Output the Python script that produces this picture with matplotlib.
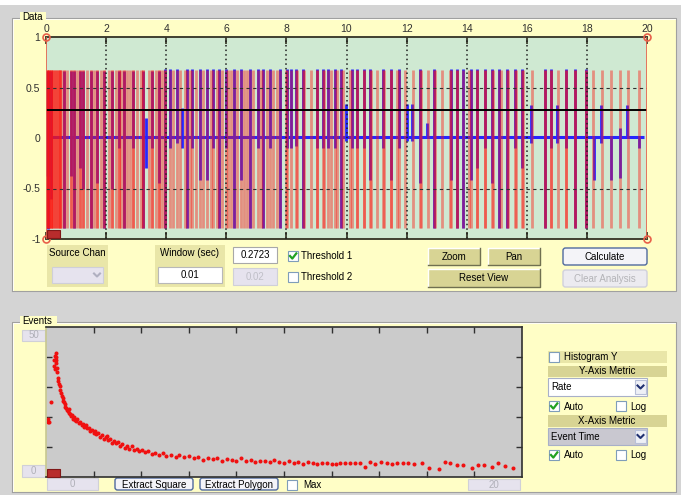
import matplotlib.pyplot as plt
from matplotlib.patches import Rectangle, FancyBboxPatch

plt.rcParams['font.family'] = ['Liberation Sans', 'DejaVu Sans']

# ---- data: top "Data" trace ----
# red event windows (times in s)
event_t = [0.03, 0.07, 0.11, 0.15, 0.18, 0.21, 0.24, 0.27, 0.30, 0.33, 0.36, 0.39,
           0.42, 0.45, 0.48, 0.51, 0.60, 0.71, 0.82, 0.93, 1.04, 1.13, 1.24, 1.35,
           1.49, 1.60, 1.71, 1.82, 1.93,
           2.10, 2.21, 2.32, 2.43, 2.51, 2.60, 2.71, 2.80, 2.91, 3.02, 3.15, 3.24,
           3.43, 3.54, 3.65, 3.76, 3.87, 3.95,
           4.24, 4.46, 4.61, 4.79, 4.98, 5.24, 5.48, 5.68, 5.87, 6.06, 6.15, 6.37,
           6.59, 6.70, 6.90, 7.14, 7.34, 7.56, 7.68, 7.98,
           8.36, 8.59, 8.81, 9.03, 9.25, 9.47, 9.69, 9.89, 10.12, 10.34, 10.58,
           10.80, 11.03, 11.25, 11.47, 11.69, 11.95,
           12.22, 12.47, 12.71, 12.93, 13.19, 13.44, 13.69, 14.08, 14.33, 14.60,
           14.89, 15.13, 15.37, 15.63, 15.88,
           16.18, 16.60, 16.82, 17.05, 17.32, 17.59, 17.98, 18.21, 18.49, 18.81,
           19.09, 19.36, 19.72]

# blue spikes: time, top, bottom
spike_t = [0.03, 0.07, 0.11, 0.15, 0.60, 0.82, 0.93, 1.13, 1.24, 1.49, 1.71, 1.93,
           2.21, 2.43, 2.60, 2.91, 3.24, 3.32, 3.54, 3.76, 3.95,
           4.13, 4.35, 4.54, 4.70, 4.87, 5.12, 5.35, 5.57, 5.76, 5.98, 6.26, 6.48,
           6.79, 7.06, 7.23, 7.45, 7.79,
           8.01, 8.14, 8.31, 8.56, 9.01, 9.23, 9.40, 9.61, 9.81, 9.97, 10.17, 10.36,
           10.58, 10.78, 11.23, 11.49, 11.75,
           12.00, 12.19, 12.45, 12.67, 12.91, 13.47, 13.67, 13.89, 14.13, 14.35,
           14.60, 14.85, 15.07, 15.35, 15.60, 15.85,
           16.15, 16.60, 16.79, 17.02, 17.32, 17.59, 17.96, 18.24, 18.48, 18.81,
           19.09, 19.35, 19.72]
spike_hi = [0.66, 0.66, 0.66, 0.66, 0.66, 0.66, 0.66, 0.66, 0.66, 0.66, 0.66, 0.66,
            0.66, 0.66, 0.66, 0.66, 0.66, 0.20, 0.66, 0.66, 0.68,
            0.68, 0.68, 0.30, 0.68, 0.68, 0.68, 0.68, 0.68, 0.68, 0.68, 0.68, 0.68,
            0.68, 0.68, 0.68, 0.68, 0.68,
            0.68, 0.68, 0.68, 0.68, 0.68, 0.68, 0.68, 0.68, 0.68, 0.34, 0.68, 0.68,
            0.68, 0.68, 0.68, 0.68, 0.68,
            0.34, 0.34, 0.68, 0.15, 0.68, 0.68, 0.68, 0.68, 0.68, 0.68,
            0.68, 0.68, 0.68, 0.68, 0.68, 0.68,
            0.33, 0.68, 0.68, 0.33, 0.68, 0.68, 0.68, 0.00, 0.33, 0.00,
            0.10, 0.33, 0.00]
spike_lo = [-0.38, -0.90, -0.38, -0.60, -0.89, -0.38, -0.89, -0.30, -0.50, -0.89, -0.45, -0.89,
            -0.50, -0.10, -0.89, -0.10, -0.89, -0.30, -0.10, -0.45, -0.89,
            -0.10, -0.05, -0.10, -0.89, -0.10, -0.42, -0.42, -0.10, -0.89, -0.10, -0.89, -0.42,
            -0.89, -0.10, -0.89, -0.10, -0.89,
            -0.10, -0.10, -0.08, -0.89, -0.10, -0.10, -0.10, -0.10, -0.89, -0.03, -0.10, -0.10,
            -0.10, -0.42, -0.10, -0.42, -0.10,
            -0.03, -0.03, -0.45, 0.00, -0.89, -0.42, -0.89, -0.89, -0.42, -0.30,
            -0.10, -0.45, -0.89, -0.89, -0.10, -0.30,
            -0.05, -0.89, -0.10, -0.05, -0.10, -0.89, -0.89, -0.42, -0.05, -0.42,
            -0.40, 0.00, -0.10]
threshold = 0.2723
x_ticks_top = [0, 2, 4, 6, 8, 10, 12, 14, 16, 18, 20]
y_ticks_top = [1, 0.5, 0, -0.5, -1]
y_tick_labels = ['1', '0.5', '0', '-0.5', '-1']

# ---- data: bottom "Events" scatter (event time, rate) ----
ev_time = [0.08, 0.10, 0.12, 0.22, 0.33, 0.35, 0.38, 0.40, 0.42, 0.44, 0.36, 0.40,
           0.45, 0.48, 0.50, 0.52, 0.55, 0.58, 0.60, 0.63, 0.66, 0.70, 0.72, 0.75,
           0.78, 0.80, 0.85, 0.88, 0.92, 0.95, 0.98, 1.02, 1.06, 1.10, 1.12, 1.18,
           1.22, 1.28, 1.32, 1.38, 1.42, 1.50, 1.55, 1.60, 1.68, 1.72, 1.80, 1.85,
           1.92, 2.00, 2.05, 2.12, 2.20, 2.28, 2.35, 2.42, 2.50, 2.56, 2.62, 2.70,
           2.78, 2.85, 2.95, 3.02, 3.10, 3.20, 3.30, 3.40, 3.50, 3.60, 3.70, 3.82,
           3.92, 4.05, 4.18, 4.30, 4.45, 4.60, 4.75, 4.90, 5.05, 5.25, 5.45, 5.60,
           5.80, 6.00, 6.20, 6.40, 6.60, 6.80, 7.00, 7.20, 7.40, 7.60, 7.80, 8.00,
           8.20, 8.40, 8.60, 8.80, 9.00, 9.20, 9.40, 9.60, 9.80, 10.0, 10.2, 10.4,
           10.6, 10.8, 11.0, 11.2, 11.4, 11.6, 11.8, 12.0, 12.2,
           12.35, 12.56, 12.77, 12.98, 13.19, 13.40, 13.61, 13.82, 14.06, 14.31,
           14.52, 14.76, 14.98, 15.22, 15.45, 15.78, 16.10, 16.52, 16.76, 16.97,
           17.25, 17.53, 17.88, 18.16, 18.40, 18.72, 19.00, 19.28, 19.63]
ev_rate = [18.5, 19.5, 18.2, 25.0, 37.0, 39.0, 40.5, 41.2, 40.0, 39.0, 36.0, 38.0,
           36.5, 35.0, 33.0, 32.0, 31.0, 30.5, 29.0, 28.0, 27.0, 26.5, 25.5, 25.0,
           24.2, 23.5, 23.0, 22.5, 22.0, 22.8, 21.5, 21.0, 20.5, 20.8, 19.5, 20.0,
           19.0, 18.6, 19.2, 18.0, 18.3, 17.5, 17.8, 16.8, 17.2, 16.2, 16.5, 15.5,
           15.8, 14.8, 15.2, 14.2, 14.6, 13.5, 14.0, 12.8, 13.2, 13.6, 12.2, 12.6,
           11.5, 12.0, 11.2, 11.6, 10.5, 11.0, 9.8, 10.2, 9.5, 10.4, 9.0, 9.4,
           8.6, 9.0, 8.2, 8.6, 7.6, 8.1, 7.5, 7.9, 7.0, 7.4, 6.8, 7.2,
           6.6, 6.9, 6.2, 6.8, 5.6, 6.3, 6.0, 6.4, 5.5, 6.0, 5.8, 5.4,
           6.2, 5.2, 5.7, 5.0, 5.5, 5.3, 4.9, 5.6, 5.1, 4.8, 5.2, 4.6,
           4.9, 4.5, 5.0, 4.7, 4.4, 4.6, 4.8, 4.5, 4.2,
           4.6, 4.6, 4.6, 4.6, 4.6, 3.4, 5.1, 4.3, 5.1, 4.6,
           4.3, 4.6, 4.6, 4.6, 4.3, 4.6, 3.1, 2.6, 5.0, 4.8,
           4.0, 4.0, 3.1, 4.0, 4.0, 3.4, 4.6, 3.7, 3.1]

W, H = 681, 495
GRAY = '#d4d4d4'
YEL = '#fffec6'
OLIVE = '#e9e6a8'
OLIVE_D = '#d8d494'
LAV = '#e6e3ee'

fig = plt.figure(figsize=(W / 100, H / 100), dpi=100, facecolor=GRAY)
bg = fig.add_axes([0, 0, 1, 1])
bg.set_xlim(0, W)
bg.set_ylim(H, 0)
bg.axis('off')


def px_axes(l, t, r, b):
    return fig.add_axes([l / W, 1 - b / H, (r - l) / W, (b - t) / H])


def box(x0, y0, x1, y1, fc, ec='none', lw=0.8, z=1):
    bg.add_patch(Rectangle((x0, y0), x1 - x0, y1 - y0, fc=fc, ec=ec, lw=lw, zorder=z))


def txt(x, y, s, size=7, color='black', ha='left'):
    bg.text(x, y, s, ha=ha, va='center', fontsize=size, color=color, zorder=5)


def button3d(x0, y0, x1, y1, label, fc=OLIVE_D):
    box(x0, y0, x1, y1, fc)
    bg.plot([x0, x0, x1], [y1, y0, y0], color='white', lw=1, zorder=2)
    bg.plot([x0, x1, x1], [y1, y1, y0], color='#707050', lw=1, zorder=2)
    txt((x0 + x1) / 2, (y0 + y1) / 2, label, ha='center')


def round_btn(x0, y0, x1, y1, label, enabled=True):
    ec = '#4f6a9e' if enabled else '#d0d0dc'
    fc = '#f4f4f8' if enabled else '#ecebf0'
    bg.add_patch(FancyBboxPatch((x0, y0), x1 - x0, y1 - y0,
                                boxstyle='round,pad=0,rounding_size=2.5',
                                fc=fc, ec=ec, lw=1, zorder=2))
    txt((x0 + x1) / 2, (y0 + y1) / 2 + 0.5, label,
        color='black' if enabled else '#b4b4b8', ha='center')


def checkbox(x0, y0, checked=False):
    box(x0, y0, x0 + 10, y0 + 10, 'white', ec='#7f9db9', lw=0.8, z=2)
    if checked:
        bg.plot([x0 + 2, x0 + 4.3, x0 + 8.3], [y0 + 5, y0 + 7.6, y0 + 2.4],
                color='#21a121', lw=1.6, zorder=3)


def chevron(cx, cy, color):
    bg.plot([cx - 3, cx, cx + 3], [cy - 1.5, cy + 1.5, cy - 1.5], color=color, lw=1.5, zorder=4)


def panel(x0, y0, x1, y1, title, tx):
    box(x0, y0, x1, y1, YEL)
    bg.plot([x0, x0, x1, x1, x0], [y1, y0, y0, y1, y1], color='#a0a0a0', lw=0.8, zorder=2)
    bg.plot([x0 + 1, x0 + 1, x1 - 1], [y1 - 1, y0 + 1, y0 + 1], color='white', lw=0.6, zorder=2)
    box(tx - 2, y0 - 6, tx + 5.5 * len(title) + 2, y0 + 3, YEL, z=3)
    txt(tx, y0 - 1.5, title, size=7)


# frame
box(0, 0, W, 5, 'white', z=0)
panel(12, 18, 676, 291, 'Data', 22)
panel(12, 322, 676, 492, 'Events', 22)

# ---- top axes ----
ax = px_axes(46, 37, 647, 239)
ax.set_facecolor('#cfe9d2')
ax.set_xlim(0, 20)
ax.set_ylim(-1, 1)
ax.hlines(0.01, 0, 19.9, color='#2626ff', lw=2.2, zorder=2)
ax.vlines(spike_t, spike_lo, spike_hi, color='#2626ff', lw=2.0, zorder=2)
red_t = event_t + [t for t, h in zip(spike_t, spike_hi) if h > 0.5]
ax.vlines(red_t, -0.89, 0.67, color=(1, 0.08, 0.05, 0.42), lw=2.0, zorder=3)
ax.axhline(threshold, color='black', lw=1.4, zorder=5)
for x in x_ticks_top[1:-1]:
    ax.axvline(x, color='#202020', lw=1.1, ls=(0, (1, 2)), zorder=4)
for y in (0.5, -0.5):
    ax.axhline(y, color='#303030', lw=0.8, ls=(0, (3, 3)), zorder=4)
for x in (0, 20):
    ax.axvline(x, color='#e8604a', lw=1.2, zorder=6)
    ax.plot([x, x], [1, -1], ls='none', marker='o', ms=5, mfc='none', mec='#e8604a',
            mew=1.2, clip_on=False, zorder=7)
ax.set_xticks(x_ticks_top)
ax.set_xticklabels([str(v) for v in x_ticks_top])
ax.set_yticks(y_ticks_top)
ax.set_yticklabels(y_tick_labels)
ax.tick_params(axis='x', direction='in', length=5, width=1.2, color='#303020',
               top=True, bottom=True, labeltop=True, labelbottom=False,
               labelsize=7.5, labelcolor='#303030', pad=2)
ax.tick_params(axis='y', length=0, pad=4, labelsize=7.5, labelcolor='#303030')
for s in ('top', 'bottom'):
    ax.spines[s].set_color('#404030')
    ax.spines[s].set_linewidth(1.4)
for s in ('left', 'right'):
    ax.spines[s].set_visible(False)

# ---- bottom axes ----
ax2 = px_axes(46, 327, 522, 477)
ax2.set_facecolor('#cbcbcb')
ax2.set_xlim(0, 20)
ax2.set_ylim(0, 50)
ax2.plot(ev_time, ev_rate, ls='none', marker='o', ms=2.9, color='#f01010', mec='none')
ax2.set_xticks([2, 4, 6, 8, 10, 12, 14, 16, 18])
ax2.set_yticks([10, 20, 30, 40])
ax2.tick_params(direction='in', length=4, width=1, color='#303030', top=True, right=True,
                labelbottom=False, labelleft=False)
for s in ax2.spines.values():
    s.set_color('#303030')
    s.set_linewidth(1.2)
ax2.spines['left'].set_color('#c8c890')

# ---- overlays ----
fg = fig.add_axes([0, 0, 1, 1], zorder=10)
fg.set_xlim(0, W)
fg.set_ylim(H, 0)
fg.axis('off')
for (x0, y0) in ((47, 230), (47, 469)):
    fg.add_patch(Rectangle((x0, y0), 13, 8, fc='#b82c2c', ec='#801818', lw=0.8))

# ---- top controls ----
box(47, 245, 108, 287, OLIVE)
txt(77.5, 253, 'Source Chan', ha='center')
box(52, 267, 103, 283, LAV, ec='#cfcfd8')
chevron(97, 275, '#b0b0c0')
box(155, 245, 225, 287, OLIVE)
txt(190, 253, 'Window (sec)', ha='center')
box(158, 267, 222, 283, 'white', ec='#b8b8b8')
txt(190, 275, '0.01', ha='center')
box(233, 247, 277, 263, 'white', ec='#a8a8a8')
txt(255, 255, '0.2723', ha='center')
box(233, 268, 277, 285, LAV, ec='#d0d0d8')
txt(255, 276.5, '0.02', color='#c0c0c8', ha='center')
checkbox(288, 251, True)
txt(301, 256, 'Threshold 1')
checkbox(288, 272, False)
txt(301, 277, 'Threshold 2')
button3d(428, 248, 480, 265, 'Zoom')
button3d(488, 248, 540, 265, 'Pan')
button3d(428, 269, 540, 287, 'Reset View')
round_btn(563, 248, 647, 265, 'Calculate')
round_btn(563, 270, 647, 287, 'Clear Analysis', enabled=False)

# ---- bottom controls ----
for (x0, y0, x1, y1, s) in ((22, 330, 45, 341, '50'), (22, 465, 45, 477, '0'),
                            (47, 478, 98, 490, '0'), (468, 479, 520, 490, '20')):
    box(x0, y0, x1, y1, LAV, ec='#d0d0d8')
    txt((x0 + x1) / 2, (y0 + y1) / 2, s, color='#b0b0b8', ha='center')
round_btn(115, 478, 193, 490, 'Extract Square')
round_btn(200, 478, 278, 490, 'Extract Polygon')
checkbox(287, 480, False)
txt(303, 485, 'Max')

box(548, 351, 667, 363, OLIVE)
checkbox(549, 352, False)
txt(564, 357.5, 'Histogram Y')
box(548, 366, 667, 377, OLIVE_D)
txt(607, 371.5, 'Y-Axis Metric', ha='center')
box(548, 378, 647, 396, 'white', ec='#a8b0c8')
txt(551, 387, 'Rate')
box(635, 380, 646, 394, '#eef0f6', ec='#b8c0d8')
chevron(640.5, 387, '#203070')
checkbox(549, 401, True)
txt(564, 406.5, 'Auto')
checkbox(616, 401, False)
txt(630, 406.5, 'Log')
box(548, 415, 667, 427, OLIVE_D)
txt(607, 421, 'X-Axis Metric', ha='center')
box(548, 428, 647, 445, '#c9c8d0', ec='#a8b0c8')
txt(551, 436.5, 'Event Time')
box(635, 430, 646, 443, '#eef0f6', ec='#b8c0d8')
chevron(640.5, 436.5, '#203070')
checkbox(549, 450, True)
txt(564, 455.5, 'Auto')
checkbox(616, 450, False)
txt(630, 455.5, 'Log')

fig.savefig('out.png', dpi=100, facecolor=GRAY)
